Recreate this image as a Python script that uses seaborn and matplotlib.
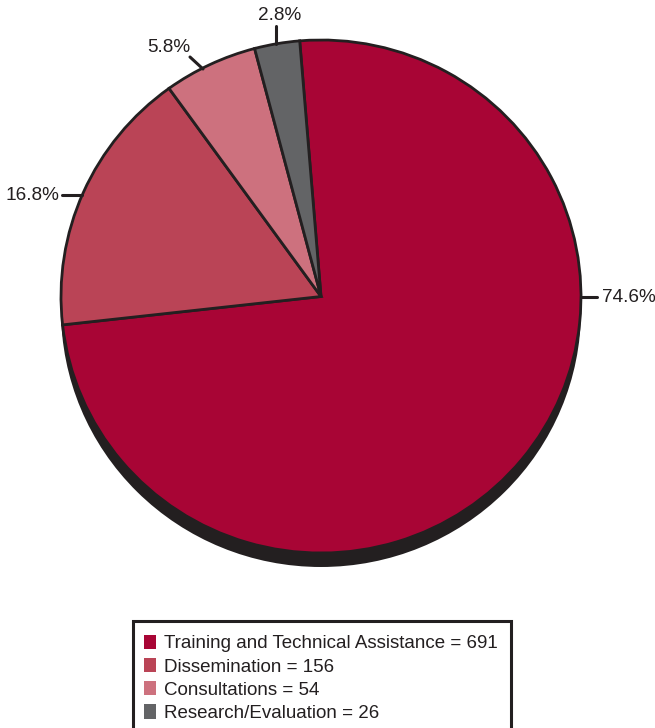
import matplotlib
matplotlib.use("Agg")
import matplotlib.pyplot as plt
import seaborn as sns
from matplotlib.patches import Ellipse, Patch, Rectangle
from matplotlib.lines import Line2D

categories = ["Training and Technical Assistance", "Dissemination", "Consultations", "Research/Evaluation"]
counts = [691, 156, 54, 26]
pct_labels = ["74.6%", "16.8%", "5.8%", "2.8%"]
colors = ["#A80535", "#BA4456", "#CD717E", "#636466"]

sns.set_theme(style="white")
plt.rcParams["font.family"] = ["Liberation Sans", "DejaVu Sans"]

W, H = 655, 728
fig = plt.figure(figsize=(W / 100, H / 100), dpi=100)
fig.patch.set_facecolor("white")

# pie axes in pixel geometry
cx, cy, rx, ry = 321, 296.5, 260, 256.5
ax = fig.add_axes([(cx - rx) / W, (H - (cy + ry)) / H, 2 * rx / W, 2 * ry / H])
ax.axis("off")

dark = "#231f20"
# shadow
shadow = Ellipse((0, -14 / ry), 2.0, 2.0, facecolor=dark, edgecolor="none", zorder=0, clip_on=False)
ax.add_patch(shadow)

wedges, _ = ax.pie(counts, colors=colors, startangle=94.7, counterclock=False, radius=1.0,
                   wedgeprops=dict(edgecolor=dark, linewidth=2.0), frame=False)
for w in wedges:
    w.set_zorder(2)
    w.set_clip_on(False)
ax.set_xlim(-1, 1)
ax.set_ylim(-1, 1)
ax.set_aspect("auto")


def fx(px):
    return px / W


def fy(py):
    return 1 - py / H


# leader lines and labels (figure pixel positions)
lines = [((581, 297), (597, 297)), ((62, 195), (82, 195)), ((190, 57), (203, 69)), ((276, 26), (276, 44))]
texts = [(602, 297, "left", "center"), (59, 195, "right", "center"),
         (169, 47, "center", "center"), (280, 16, "center", "center")]
for (p0, p1), (tx, ty, ha, va), lab in zip(lines, texts, pct_labels):
    fig.add_artist(Line2D([fx(p0[0]), fx(p1[0])], [fy(p0[1]), fy(p1[1])], color=dark, lw=2.2,
                          transform=fig.transFigure))
    fig.text(fx(tx), fy(ty), lab, ha=ha, va=va, fontsize=13.7, color=dark)

# legend frame
fig.add_artist(Rectangle((fx(133), fy(735)), (511 - 133) / W, (735 - 621) / H, transform=fig.transFigure,
                         facecolor="white", edgecolor=dark, linewidth=2.2, zorder=1, clip_on=False))

leg_labels = [f"{c} = {n}" for c, n in zip(categories, counts)]
handles = [Patch(facecolor=c, edgecolor="none") for c in colors]
leg = fig.legend(handles, leg_labels, loc="upper left", bbox_to_anchor=(fx(143.5), fy(634.5)),
                 bbox_transform=fig.transFigure, fontsize=13.5, frameon=False,
                 handlelength=0.64, handleheight=0.8, handletextpad=0.43,
                 labelspacing=0.3, borderpad=0, borderaxespad=0)
leg.set_zorder(3)
for t in leg.get_texts():
    t.set_color(dark)

fig.savefig("out.png", dpi=100, facecolor="white")
